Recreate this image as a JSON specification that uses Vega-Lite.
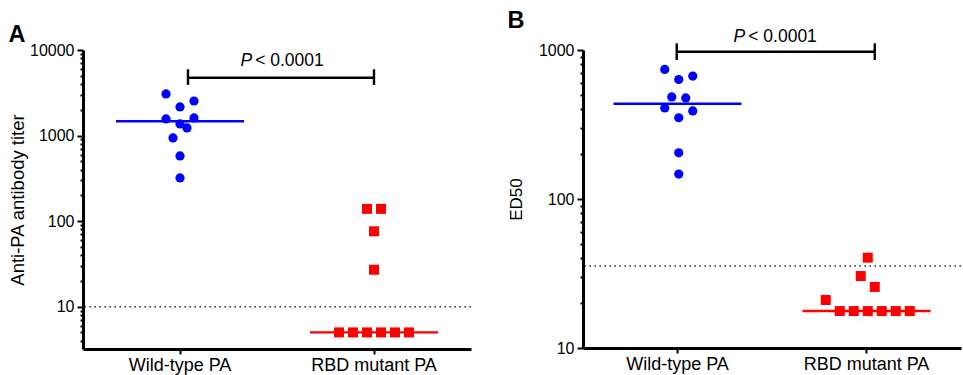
{
  "$schema": "https://vega.github.io/schema/vega-lite/v6.json",
  "padding": {"left": 8, "top": 8, "right": 0, "bottom": 0},
  "spacing": 35,
  "background": "white",
  "config": {
    "view": {"stroke": null},
    "font": "Liberation Sans",
    "axis": {"grid": false, "labelFont": "Liberation Sans", "titleFont": "Liberation Sans", "labelColor": "black", "titleColor": "black", "titleFontWeight": "normal",
      "domain": true, "domainColor": "#000000", "domainWidth": 3, "ticks": true, "tickColor": "#000000", "tickWidth": 2, "tickSize": 5},
    "text": {"font": "Liberation Sans"},
    "title": {"font": "Liberation Sans"}
  },
  "datasets": {
    "aPts": [
      {"g": "Wild-type PA", "j": -2, "v": 3062},
      {"g": "Wild-type PA", "j": 0, "v": 2158},
      {"g": "Wild-type PA", "j": 2, "v": 2535},
      {"g": "Wild-type PA", "j": -2, "v": 1563},
      {"g": "Wild-type PA", "j": 2, "v": 1606},
      {"g": "Wild-type PA", "j": 0, "v": 1367},
      {"g": "Wild-type PA", "j": 1, "v": 1228},
      {"g": "Wild-type PA", "j": -1, "v": 938},
      {"g": "Wild-type PA", "j": 0, "v": 578},
      {"g": "Wild-type PA", "j": 0, "v": 320},
      {"g": "RBD mutant PA", "j": -1, "v": 139},
      {"g": "RBD mutant PA", "j": 1, "v": 139},
      {"g": "RBD mutant PA", "j": 0, "v": 76},
      {"g": "RBD mutant PA", "j": 0, "v": 27},
      {"g": "RBD mutant PA", "j": -5, "v": 5},
      {"g": "RBD mutant PA", "j": -3, "v": 5},
      {"g": "RBD mutant PA", "j": -1, "v": 5},
      {"g": "RBD mutant PA", "j": 1, "v": 5},
      {"g": "RBD mutant PA", "j": 3, "v": 5},
      {"g": "RBD mutant PA", "j": 5, "v": 5}
    ],
    "aMed": [
      {"g": "Wild-type PA", "v": 1469},
      {"g": "RBD mutant PA", "v": 5}
    ],
    "aBr": [
      {"g": "Wild-type PA", "j": 1.14, "v": 4742, "lo": 3907, "hi": 5957},
      {"g": "RBD mutant PA", "j": 0, "v": 4742, "lo": 3907, "hi": 5957}
    ],
    "aTxt": [{"g": "mid", "j": 0.45, "v": 6560, "p": "P", "t": "< 0.0001"}],
    "aThr": [{"v": 10}],
    "bPts": [
      {"g": "Wild-type PA", "j": -2, "v": 740},
      {"g": "Wild-type PA", "j": 0, "v": 634},
      {"g": "Wild-type PA", "j": 2, "v": 668},
      {"g": "Wild-type PA", "j": -1, "v": 484},
      {"g": "Wild-type PA", "j": 1, "v": 477},
      {"g": "Wild-type PA", "j": -2, "v": 408},
      {"g": "Wild-type PA", "j": 2, "v": 390},
      {"g": "Wild-type PA", "j": 0, "v": 351},
      {"g": "Wild-type PA", "j": 0, "v": 204},
      {"g": "Wild-type PA", "j": 0, "v": 147},
      {"g": "RBD mutant PA", "j": 0, "v": 40.4},
      {"g": "RBD mutant PA", "j": -1, "v": 30.4},
      {"g": "RBD mutant PA", "j": 1, "v": 25.7},
      {"g": "RBD mutant PA", "j": -6, "v": 21.0},
      {"g": "RBD mutant PA", "j": -4, "v": 17.7},
      {"g": "RBD mutant PA", "j": -2, "v": 17.7},
      {"g": "RBD mutant PA", "j": 0, "v": 17.7},
      {"g": "RBD mutant PA", "j": 2, "v": 17.7},
      {"g": "RBD mutant PA", "j": 4, "v": 17.7},
      {"g": "RBD mutant PA", "j": 6, "v": 17.7}
    ],
    "bMed": [
      {"g": "Wild-type PA", "v": 436},
      {"g": "RBD mutant PA", "v": 17.7}
    ],
    "bBr": [
      {"g": "Wild-type PA", "j": -0.29, "v": 974, "lo": 857, "hi": 1108},
      {"g": "RBD mutant PA", "j": 1, "v": 974, "lo": 857, "hi": 1108}
    ],
    "bTxt": [{"g": "mid", "j": 0, "v": 1129, "p": "P", "t": "< 0.0001"}],
    "bThr": [{"v": 35.5}]
  },
  "hconcat": [
    {
      "width": 388,
      "height": 299,
      "title": {"text": "A", "anchor": "start", "frame": "bounds", "fontSize": 23.5, "fontWeight": "bold", "color": "black", "offset": -4},
      "layer": [
        {
          "data": {"name": "aThr"},
          "mark": {"type": "rule", "strokeDash": [1.6, 3.4], "color": "#333", "strokeWidth": 1.5},
          "encoding": {
            "y": {"field": "v", "type": "quantitative", "title": "Anti-PA antibody titer",
              "scale": {"type": "log", "domain": [3.2, 10000], "nice": false}}
          }
        },
        {
          "data": {"name": "aPts"},
          "mark": {"type": "point", "filled": true, "opacity": 1},
          "encoding": {
            "x": {"field": "g", "type": "nominal", "title": null,
              "scale": {"type": "band", "domain": ["Wild-type PA", "mid", "RBD mutant PA"], "paddingInner": 0, "paddingOuter": 0.5},
              "axis": {"values": ["Wild-type PA", "RBD mutant PA"], "labelAngle": 0, "labelFontSize": 18, "labelPadding": 2.5, "ticks": true, "tickSize": 5, "tickWidth": 2, "tickColor": "#000000", "domain": true, "domainColor": "#000000", "domainWidth": 3}},
            "xOffset": {"field": "j", "type": "quantitative", "scale": {"domain": [-6, 6], "range": [6.5, 90.5]}},
            "y": {"field": "v", "type": "quantitative", "title": "Anti-PA antibody titer",
              "scale": {"type": "log", "domain": [3.2, 10000], "nice": false},
              "axis": {"values": [4,5,6,7,8,9,10,20,30,40,50,60,70,80,90,100,200,300,400,500,600,700,800,900,1000,2000,3000,4000,5000,6000,7000,8000,9000,10000],
                "labelExpr": "indexof([10,100,1000,10000], datum.value) >= 0 ? datum.label : ''",
                "format": "d", "labelFontSize": 16, "labelPadding": 3,
                "ticks": true,
                "tickSize": {"condition": {"test": "indexof([10,100,1000,10000], datum.value) >= 0", "value": 6}, "value": 3},
                "tickWidth": 2, "tickColor": "#000000", "domain": true, "domainColor": "#000000", "domainWidth": 3,
                "title": "Anti-PA antibody titer", "titleFontSize": 18.5, "titlePadding": 2}},
            "color": {"field": "g", "type": "nominal", "scale": {"domain": ["Wild-type PA", "RBD mutant PA"], "range": ["#0000FF", "#FF0000"]}, "legend": null},
            "shape": {"field": "g", "type": "nominal", "scale": {"domain": ["Wild-type PA", "RBD mutant PA"], "range": ["circle", "square"]}, "legend": null},
            "size": {"field": "g", "type": "nominal", "scale": {"domain": ["Wild-type PA", "RBD mutant PA"], "range": [85, 100]}, "legend": null}
          }
        },
        {
          "data": {"name": "aMed"},
          "mark": {"type": "tick", "orient": "horizontal", "size": 128, "thickness": 2.4, "opacity": 1},
          "encoding": {
            "x": {"field": "g", "type": "nominal", "title": null},
            "y": {"field": "v", "type": "quantitative", "title": "Anti-PA antibody titer"},
            "color": {"field": "g", "type": "nominal", "legend": null}
          }
        },
        {
          "data": {"name": "aBr"},
          "mark": {"type": "line", "color": "black", "strokeWidth": 2.4},
          "encoding": {
            "x": {"field": "g", "type": "nominal", "title": null},
            "xOffset": {"field": "j", "type": "quantitative"},
            "y": {"field": "v", "type": "quantitative", "title": "Anti-PA antibody titer"}
          }
        },
        {
          "data": {"name": "aBr"},
          "mark": {"type": "rule", "color": "black", "strokeWidth": 2.4},
          "encoding": {
            "x": {"field": "g", "type": "nominal", "title": null},
            "xOffset": {"field": "j", "type": "quantitative"},
            "y": {"field": "lo", "type": "quantitative", "title": "Anti-PA antibody titer"},
            "y2": {"field": "hi"}
          }
        },
        {
          "data": {"name": "aTxt"},
          "mark": {"type": "text", "align": "right", "baseline": "alphabetic", "fontSize": 17.5, "fontStyle": "italic", "color": "black", "dx": -28},
          "encoding": {
            "x": {"field": "g", "type": "nominal", "title": null},
            "xOffset": {"field": "j", "type": "quantitative"},
            "y": {"field": "v", "type": "quantitative", "title": "Anti-PA antibody titer"},
            "text": {"field": "p"}
          }
        },
        {
          "data": {"name": "aTxt"},
          "mark": {"type": "text", "align": "left", "baseline": "alphabetic", "fontSize": 17.5, "color": "black", "dx": -25},
          "encoding": {
            "x": {"field": "g", "type": "nominal", "title": null},
            "xOffset": {"field": "j", "type": "quantitative"},
            "y": {"field": "v", "type": "quantitative", "title": "Anti-PA antibody titer"},
            "text": {"field": "t"}
          }
        }
      ]
    },
    {
      "width": 378,
      "height": 298,
      "title": {"text": "B", "anchor": "start", "frame": "bounds", "fontSize": 23.5, "fontWeight": "bold", "color": "black", "offset": -4},
      "layer": [
        {
          "data": {"name": "bThr"},
          "mark": {"type": "rule", "strokeDash": [1.6, 3.4], "color": "#333", "strokeWidth": 1.5},
          "encoding": {
            "y": {"field": "v", "type": "quantitative", "title": "ED50",
              "scale": {"type": "log", "domain": [10, 1000], "nice": false}}
          }
        },
        {
          "data": {"name": "bPts"},
          "mark": {"type": "point", "filled": true, "opacity": 1},
          "encoding": {
            "x": {"field": "g", "type": "nominal", "title": null,
              "scale": {"type": "band", "domain": ["Wild-type PA", "mid", "RBD mutant PA"], "paddingInner": 0, "paddingOuter": 0.5},
              "axis": {"values": ["Wild-type PA", "RBD mutant PA"], "labelAngle": 0, "labelFontSize": 18, "labelPadding": 2.5, "ticks": true, "tickSize": 5, "tickWidth": 2, "tickColor": "#000000", "domain": true, "domainColor": "#000000", "domainWidth": 3}},
            "xOffset": {"field": "j", "type": "quantitative", "scale": {"domain": [-6, 6], "range": [5.25, 89.25]}},
            "y": {"field": "v", "type": "quantitative", "title": "ED50",
              "scale": {"type": "log", "domain": [10, 1000], "nice": false},
              "axis": {"values": [10,20,30,40,50,60,70,80,90,100,200,300,400,500,600,700,800,900,1000],
                "labelExpr": "indexof([10,100,1000], datum.value) >= 0 ? datum.label : ''",
                "format": "d", "labelFontSize": 16, "labelPadding": 3,
                "ticks": true,
                "tickSize": {"condition": {"test": "indexof([10,100,1000], datum.value) >= 0", "value": 6}, "value": 3},
                "tickWidth": 2, "tickColor": "#000000", "domain": true, "domainColor": "#000000", "domainWidth": 3,
                "title": "ED50", "titleFontSize": 17, "titlePadding": 13}},
            "color": {"field": "g", "type": "nominal", "scale": {"domain": ["Wild-type PA", "RBD mutant PA"], "range": ["#0000FF", "#FF0000"]}, "legend": null},
            "shape": {"field": "g", "type": "nominal", "scale": {"domain": ["Wild-type PA", "RBD mutant PA"], "range": ["circle", "square"]}, "legend": null},
            "size": {"field": "g", "type": "nominal", "scale": {"domain": ["Wild-type PA", "RBD mutant PA"], "range": [85, 100]}, "legend": null}
          }
        },
        {
          "data": {"name": "bMed"},
          "mark": {"type": "tick", "orient": "horizontal", "size": 128, "thickness": 2.4, "opacity": 1},
          "encoding": {
            "x": {"field": "g", "type": "nominal", "title": null},
            "y": {"field": "v", "type": "quantitative", "title": "ED50"},
            "color": {"field": "g", "type": "nominal", "legend": null}
          }
        },
        {
          "data": {"name": "bBr"},
          "mark": {"type": "line", "color": "black", "strokeWidth": 2.4},
          "encoding": {
            "x": {"field": "g", "type": "nominal", "title": null},
            "xOffset": {"field": "j", "type": "quantitative"},
            "y": {"field": "v", "type": "quantitative", "title": "ED50"}
          }
        },
        {
          "data": {"name": "bBr"},
          "mark": {"type": "rule", "color": "black", "strokeWidth": 2.4},
          "encoding": {
            "x": {"field": "g", "type": "nominal", "title": null},
            "xOffset": {"field": "j", "type": "quantitative"},
            "y": {"field": "lo", "type": "quantitative", "title": "ED50"},
            "y2": {"field": "hi"}
          }
        },
        {
          "data": {"name": "bTxt"},
          "mark": {"type": "text", "align": "right", "baseline": "alphabetic", "fontSize": 17.5, "fontStyle": "italic", "color": "black", "dx": -28},
          "encoding": {
            "x": {"field": "g", "type": "nominal", "title": null},
            "xOffset": {"field": "j", "type": "quantitative"},
            "y": {"field": "v", "type": "quantitative", "title": "ED50"},
            "text": {"field": "p"}
          }
        },
        {
          "data": {"name": "bTxt"},
          "mark": {"type": "text", "align": "left", "baseline": "alphabetic", "fontSize": 17.5, "color": "black", "dx": -25},
          "encoding": {
            "x": {"field": "g", "type": "nominal", "title": null},
            "xOffset": {"field": "j", "type": "quantitative"},
            "y": {"field": "v", "type": "quantitative", "title": "ED50"},
            "text": {"field": "t"}
          }
        }
      ]
    }
  ]
}
